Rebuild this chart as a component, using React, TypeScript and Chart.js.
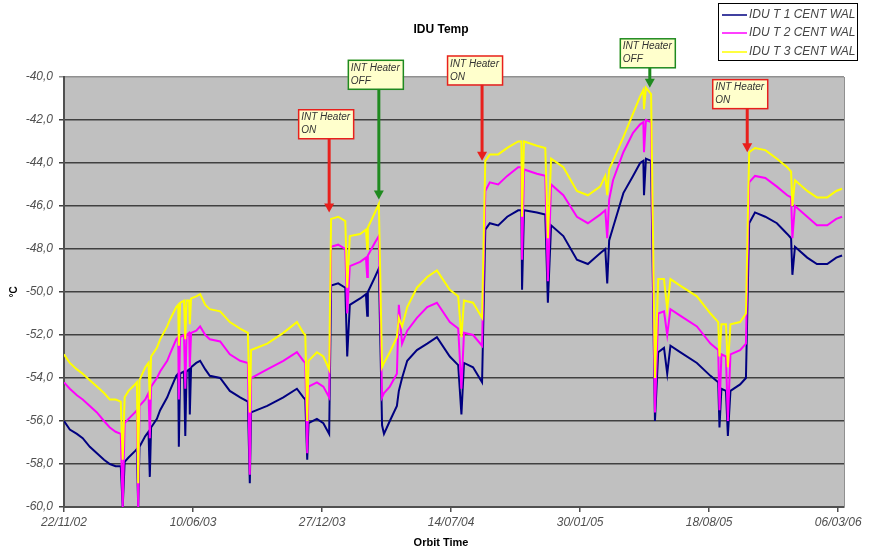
import React, { useEffect, useRef } from 'react';
import { Chart, registerables } from 'chart.js';
Chart.register(...registerables);

// Days since 22/11/02
const days = [
  0, 9, 20, 29, 40, 51, 62, 71, 80, 88, 91, 94, 100, 110, 113, 115, 117, 126, 131, 133, 135, 144, 149, 160, 164, 174, 177, 178, 180, 186, 188, 190, 194, 195, 197, 205, 211, 219, 226, 242, 257, 273, 285, 288, 290,
  315, 340, 361, 371, 374, 377, 379, 392, 402, 411, 414, 425, 436, 439, 443, 459, 468, 470, 471, 482, 488,
  493, 496, 505, 516, 519, 524, 532, 547, 563, 578, 598, 611, 616, 620, 634, 648,
  653, 660, 673, 687, 704, 709, 710, 713, 733, 746, 750, 755, 774, 795, 812, 831, 839, 842, 845, 851, 867, 882, 893, 898, 899, 902, 910,
  916, 921, 930, 935, 940, 955, 981, 1002, 1014, 1016, 1019, 1026, 1029, 1033, 1048, 1057,
  1062, 1071, 1087, 1105, 1121, 1127, 1129, 1133, 1152, 1167, 1183, 1197, 1206,
];

const t1 = [
  -56.0, -56.4, -56.6, -56.8, -57.2, -57.5, -57.8, -58.0, -58.1, -58.1, -60.0, -57.9, -57.7, -57.4, -57.3, -60.0, -57.2, -56.7, -56.5, -58.6, -56.3, -55.9, -55.5, -54.9, -54.6, -53.9, -53.8, -57.2, -53.8, -53.7, -56.7, -53.7, -53.6, -55.7, -53.5, -53.3, -53.2, -53.6, -53.9, -54.0, -54.6, -54.9, -55.1, -58.9, -55.6,
  -55.3, -54.9, -54.5, -54.9, -55.0, -57.8, -56.1, -55.9, -56.1, -56.6, -49.7, -49.6, -49.8, -53.0, -50.6, -50.3, -50.1, -51.1, -50.0, -49.3, -48.9,
  -56.2, -56.6, -56.0, -55.3, -54.6, -54.0, -53.2, -52.7, -52.4, -52.1, -53.0, -53.4, -55.7, -53.3, -53.5, -54.2,
  -47.1, -46.8, -46.9, -46.5, -46.2, -46.2, -49.9, -46.2, -46.3, -46.4, -50.5, -46.9, -47.4, -48.5, -48.7, -48.2, -48.0, -49.6, -47.6, -47.0, -45.4, -44.6, -44.0, -43.9, -45.5, -43.8, -43.9,
  -56.0, -52.8, -52.6, -53.8, -52.5, -52.8, -53.3, -53.9, -54.2, -56.3, -54.5, -54.6, -56.7, -54.6, -54.3, -54.0,
  -46.8, -46.3, -46.5, -46.8, -47.3, -47.5, -49.2, -47.9, -48.4, -48.7, -48.7, -48.4, -48.3,
];

const t2 = [
  -54.2, -54.5, -54.8, -55.0, -55.3, -55.6, -56.0, -56.3, -56.5, -56.6, -60.0, -56.1, -55.9, -55.6, -55.5, -60.0, -55.3, -55.0, -54.7, -56.8, -54.4, -54.0, -53.7, -53.2, -52.9, -52.2, -52.1, -55.0, -52.1, -52.0, -54.5, -52.0, -51.9, -53.5, -51.9, -51.8, -51.6, -52.0, -52.2, -52.3, -52.9, -53.2, -53.3, -58.5, -54.0,
  -53.6, -53.2, -52.8, -53.2, -53.3, -57.5, -54.4, -54.2, -54.4, -54.9, -47.9, -47.8, -48.0, -51.0, -48.8, -48.6, -48.4, -49.3, -48.3, -47.7, -47.4,
  -54.9, -54.7, -54.4, -53.8, -50.6, -52.4, -51.8, -51.2, -50.7, -50.5, -51.4, -51.7, -54.5, -51.9, -52.0, -52.5,
  -45.3, -44.9, -45.0, -44.6, -44.2, -44.2, -48.5, -44.3, -44.5, -44.6, -49.5, -45.0, -45.5, -46.5, -46.8, -46.4, -46.2, -47.5, -45.7, -44.8, -43.5, -42.6, -42.2, -42.1, -43.5, -42.0, -42.1,
  -55.6, -51.0, -50.9, -52.0, -50.8, -51.1, -51.6, -52.4, -52.7, -55.5, -52.9, -53.0, -56.0, -52.9, -52.7, -52.4,
  -44.9, -44.6, -44.7, -45.1, -45.5, -45.6, -47.5, -46.0, -46.5, -46.9, -46.9, -46.6, -46.5,
];

const t3 = [
  -52.9, -53.3, -53.6, -53.8, -54.1, -54.4, -54.7, -55.0, -55.0, -55.1, -57.8, -54.9, -54.6, -54.3, -54.2, -58.9, -54.1, -53.5, -53.3, -55.0, -53.0, -52.6, -52.2, -51.6, -51.3, -50.7, -50.6, -52.5, -50.5, -50.4, -52.2, -50.4, -50.4, -51.5, -50.3, -50.2, -50.1, -50.6, -50.8, -50.9, -51.4, -51.7, -51.9, -55.6, -52.7,
  -52.4, -51.9, -51.4, -51.9, -52.0, -56.0, -53.2, -52.8, -53.0, -53.6, -46.6, -46.5, -46.7, -49.8, -47.4, -47.3, -47.1, -48.0, -47.0, -46.3, -45.9,
  -53.5, -53.3, -52.8, -52.1, -51.2, -51.6, -50.7, -49.8, -49.3, -49.0, -49.9, -50.2, -52.1, -50.4, -50.5, -51.2,
  -43.9, -43.6, -43.6, -43.3, -43.0, -43.0, -46.5, -43.0, -43.2, -43.3, -47.5, -43.8, -44.2, -45.3, -45.5, -45.1, -44.6, -45.5, -44.3, -43.9, -42.8, -41.7, -40.9, -40.6, -41.5, -40.5, -40.8,
  -54.0, -49.4, -49.4, -50.8, -49.4, -49.7, -50.2, -51.0, -51.4, -53.0, -51.5, -51.5, -53.5, -51.5, -51.4, -51.0,
  -43.5, -43.3, -43.4, -43.8, -44.2, -44.4, -46.0, -44.8, -45.3, -45.6, -45.6, -45.3, -45.2,
];

const seriesNames = ['IDU T 1 CENT WAL', 'IDU T 2 CENT WAL', 'IDU T 3 CENT WAL'];
const seriesColors = ['#000080', '#ff00ff', '#ffff00'];

const tickDays = [0, 200, 400, 600, 800, 1000, 1200];
const tickLabels = ['22/11/02', '10/06/03', '27/12/03', '14/07/04', '30/01/05', '18/08/05', '06/03/06'];
const yTicks = [-60, -58, -56, -54, -52, -50, -48, -46, -44, -42, -40];

// Heater annotations
const heaterDays = [411, 488, 648, 908, 1059];
const heaterTips = [-46.3, -45.7, -43.9, -40.5, -43.5];
const heaterStates = ['ON', 'OFF', 'ON', 'OFF', 'ON'];
const heaterBoxTops = [-41.5, -39.2, -39.0, -38.2, -40.1];
const heaterOffsets = [-31, -31, -35, -30, -35];

const FONT = '"Liberation Sans", Arial, sans-serif';

const overlayPlugin = {
  id: 'overlay',
  beforeDraw(chart: any) {
    const { ctx, chartArea: a } = chart;
    ctx.save();
    ctx.fillStyle = '#ffffff';
    ctx.fillRect(0, 0, chart.width, chart.height);
    ctx.fillStyle = '#c0c0c0';
    ctx.fillRect(a.left, a.top, a.right - a.left, a.bottom - a.top);
    ctx.restore();
  },
  afterDraw(chart: any) {
    const { ctx, chartArea: a, scales } = chart;
    const xs = scales.x;
    const ys = scales.y;
    ctx.save();
    // right border
    ctx.strokeStyle = '#909090';
    ctx.lineWidth = 1;
    ctx.beginPath();
    ctx.moveTo(a.right + 0.5, a.top);
    ctx.lineTo(a.right + 0.5, a.bottom);
    ctx.stroke();

    // title
    ctx.fillStyle = '#000';
    ctx.textAlign = 'center';
    ctx.textBaseline = 'middle';
    ctx.font = `bold 12px ${FONT}`;
    ctx.fillText('IDU Temp', 441, 30);
    ctx.font = `bold 11px ${FONT}`;
    ctx.fillText('Orbit Time', 441, 543);
    ctx.save();
    ctx.translate(14, 292);
    ctx.rotate(-Math.PI / 2);
    ctx.font = `bold 10px ${FONT}`;
    ctx.fillText('°C', 0, 0);
    ctx.restore();

    // legend
    ctx.fillStyle = '#ffffff';
    ctx.fillRect(718, 3, 140, 57);
    ctx.strokeStyle = '#000';
    ctx.lineWidth = 1;
    ctx.strokeRect(718.5, 3.5, 139, 57);
    const ly = [15, 33, 52];
    ctx.textAlign = 'left';
    ctx.font = `italic 12px ${FONT}`;
    for (let i = 0; i < 3; i++) {
      ctx.strokeStyle = seriesColors[i];
      ctx.lineWidth = 1.5;
      ctx.beginPath();
      ctx.moveTo(722, ly[i]);
      ctx.lineTo(747, ly[i]);
      ctx.stroke();
      ctx.fillStyle = '#444';
      ctx.fillText(seriesNames[i], 749, ly[i]);
    }

    // heater annotations
    for (let i = 0; i < heaterDays.length; i++) {
      const on = heaterStates[i] === 'ON';
      const col = on ? '#e8201c' : '#1f8a1f';
      const px = xs.getPixelForValue(heaterDays[i]);
      const tip = ys.getPixelForValue(heaterTips[i]);
      const top = ys.getPixelForValue(heaterBoxTops[i]);
      const bx = px + heaterOffsets[i];
      const bw = 55;
      const bh = 29;
      // arrow
      ctx.strokeStyle = col;
      ctx.fillStyle = col;
      ctx.lineWidth = 3;
      ctx.beginPath();
      ctx.moveTo(px, top + bh);
      ctx.lineTo(px, tip - 7);
      ctx.stroke();
      ctx.beginPath();
      ctx.moveTo(px - 5, tip - 9);
      ctx.lineTo(px + 5, tip - 9);
      ctx.lineTo(px, tip);
      ctx.closePath();
      ctx.fill();
      // box
      ctx.fillStyle = '#ffffcc';
      ctx.fillRect(bx, top, bw, bh);
      ctx.strokeStyle = col;
      ctx.lineWidth = 1.5;
      ctx.strokeRect(bx + 0.5, top + 0.5, bw, bh);
      ctx.fillStyle = '#333';
      ctx.font = `italic 10px ${FONT}`;
      ctx.textAlign = 'left';
      ctx.textBaseline = 'alphabetic';
      ctx.fillText('INT Heater', bx + 3, top + 11);
      ctx.fillText(heaterStates[i], bx + 3, top + 24);
    }
    ctx.restore();
  },
};

export default function App() {
  const ref = useRef<HTMLCanvasElement | null>(null);
  useEffect(() => {
    document.body.style.margin = '0';
    const canvas = ref.current!;
    const mk = (vals: number[]) => days.map((d, i) => ({ x: d, y: vals[i] }));
    const chart = new Chart(canvas, {
      type: 'line',
      data: {
        datasets: [
          { label: seriesNames[0], data: mk(t1), borderColor: seriesColors[0], borderWidth: 2, pointRadius: 0, tension: 0, order: 3 },
          { label: seriesNames[1], data: mk(t2), borderColor: seriesColors[1], borderWidth: 2, pointRadius: 0, tension: 0, order: 2 },
          { label: seriesNames[2], data: mk(t3), borderColor: seriesColors[2], borderWidth: 2, pointRadius: 0, tension: 0, order: 1 },
        ],
      },
      options: {
        responsive: false,
        animation: false,
        devicePixelRatio: 1,
        layout: { padding: { left: 0, right: 37, top: 77, bottom: 0 } },
        plugins: { legend: { display: false }, title: { display: false }, tooltip: { enabled: false } },
        scales: {
          x: {
            type: 'linear',
            min: 0,
            max: 1209,
            afterBuildTicks: (s: any) => { s.ticks = tickDays.map((v) => ({ value: v })); },
            afterFit: (s: any) => { s.height = 45; },
            ticks: {
              autoSkip: false,
              maxRotation: 0,
              padding: 3,
              color: '#505050',
              font: { family: FONT, size: 12, style: 'italic' },
              callback: (v: any) => tickLabels[tickDays.indexOf(Number(v))] ?? '',
            },
            grid: { drawOnChartArea: false, tickLength: 5, color: '#505050', lineWidth: 1.5 },
            border: { color: '#505050', width: 2 },
          },
          y: {
            type: 'linear',
            min: -60,
            max: -40,
            afterBuildTicks: (s: any) => { s.ticks = yTicks.map((v) => ({ value: v })); },
            afterFit: (s: any) => { s.width = 64; },
            ticks: {
              padding: 6,
              color: '#505050',
              font: { family: FONT, size: 12, style: 'italic' },
              callback: (v: any) => Number(v).toFixed(1).replace('.', ','),
            },
            grid: {
              tickLength: 5,
              color: (c: any) => (c.tick && c.tick.value === -40 ? '#909090' : '#404040'),
              lineWidth: 1.5,
            },
            border: { color: '#505050', width: 2 },
          },
        },
      },
      plugins: [overlayPlugin],
    });
    return () => chart.destroy();
  }, []);
  return (
    <div style={{ position: 'absolute', left: 0, top: 0, width: 881, height: 552 }}>
      <canvas ref={ref} width={881} height={552} style={{ width: 881, height: 552, display: 'block' }} />
    </div>
  );
}
